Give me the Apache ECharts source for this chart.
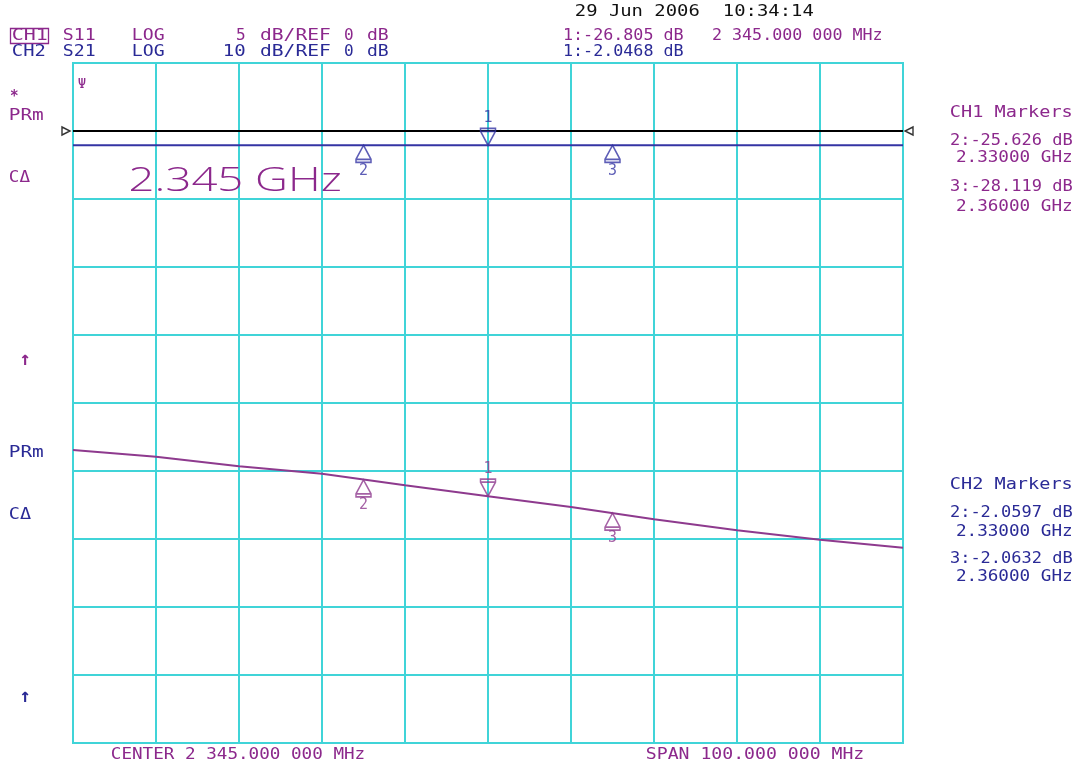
<!DOCTYPE html>
<html><head><meta charset="utf-8">
<script src="https://cdn.jsdelivr.net/npm/echarts@6/dist/echarts.min.js"></script>
<style>html,body{margin:0;padding:0;background:#fff}#c{width:1083px;height:769px}</style>
</head><body><div id="c"></div>
<script>
// ---------- data ----------
const centerMHz = 2345;                                   // CENTER 2 345.000 000 MHz, SPAN 100 MHz
const freqOffsets = [-50, -40, -30, -20, -10, 0, 10, 20, 30, 40, 50]; // MHz from centre
// trace heights in screen divisions above the bottom graticule line
const ch1Trace = [8.79, 8.79, 8.79, 8.79, 8.79, 8.79, 8.79, 8.79, 8.79, 8.79, 8.79];
const ch2Trace = [4.31, 4.21, 4.07, 3.96, 3.79, 3.63, 3.47, 3.29, 3.13, 2.99, 2.87];
const ch1RefLevel = 9;
const markerNames = ['1', '2', '3'];
const markerOffsets = [0, -15, 15];                       // 2345, 2330, 2360 MHz
const ch1MarkerPos = [8.79, 8.79, 8.79];
const ch2MarkerPos = [3.63, 3.87, 3.38];
const ch1MarkerText = ['2:-25.626 dB', '2.33000 GHz', '3:-28.119 dB', '2.36000 GHz'];
const ch2MarkerText = ['2:-2.0597 dB', '2.33000 GHz', '3:-2.0632 dB', '2.36000 GHz'];
const ch1Readout = '1:-26.805 dB';
const ch2Readout = '1:-2.0468 dB';
const markerFreqText = '2 345.000 000 MHz';
const centerText = 'CENTER 2 345.000 000 MHz';
const spanText = 'SPAN 100.000 000 MHz';
const dateText = ['29 Jun 2006', '10:34:14'];
const bigFreqText = '2.345 GHz';

// ---------- styles ----------
const P = '#8c288c', B = '#2a2a96', K = '#111111';
const TRACE1 = '#3434a4', TRACE2 = '#8e3a8e', CYAN = '#40d4d8';
const MONO = '"DejaVu Sans Mono", "Liberation Mono", monospace';

const ctx = document.createElement('canvas').getContext('2d');
function txt(s, x1, x2, yc, color, size, family, weight) {
  const font = (weight ? weight + ' ' : '') + size + 'px ' + (family || MONO);
  ctx.font = font;
  const m = ctx.measureText(s);
  const ink = m.actualBoundingBoxLeft + m.actualBoundingBoxRight;
  const sx = (x2 - x1) / ink;
  return { type: 'text', x: x1 + m.actualBoundingBoxLeft * sx, y: yc, scaleX: sx, silent: true, z: 10,
    style: { text: s, fill: color, font: font, textAlign: 'left', align: 'left',
             textVerticalAlign: 'middle', verticalAlign: 'middle' } };
}
function ctxt(s, x, yc, color, size, weight) {
  return { type: 'text', x: x, y: yc, silent: true, z: 10,
    style: { text: s, fill: color, font: (weight ? weight + ' ' : '') + size + 'px ' + MONO, textAlign: 'center', align: 'center',
             textVerticalAlign: 'middle', verticalAlign: 'middle' } };
}

const graphics = [
  // header row 1 (CH1)
  { type: 'rect', shape: { x: 10.5, y: 28.5, width: 38, height: 15 }, style: { fill: 'none', stroke: P, lineWidth: 1.3 }, silent: true },
  txt('CH1', 13, 47, 36, P, 16), txt('S11', 64, 95, 35.5, P, 16), txt('LOG', 133, 164, 35.5, P, 16),
  txt('5', 237, 245, 35.5, P, 16), txt('dB/REF', 260, 330, 35.5, P, 16), txt('0', 345, 353, 35.5, P, 16), txt('dB', 367, 388, 35.5, P, 16),
  // header row 2 (CH2)
  txt('CH2', 13, 45, 52, B, 16), txt('S21', 64, 95, 52, B, 16), txt('LOG', 133, 164, 52, B, 16),
  txt('10', 224, 245, 52, B, 16), txt('dB/REF', 260, 330, 52, B, 16), txt('0', 345, 353, 52, B, 16), txt('dB', 367, 388, 52, B, 16),
  // date / readouts
  txt(dateText[0], 576, 699, 11.5, K, 16), txt(dateText[1], 724, 813, 11.5, K, 16),
  txt(ch1Readout, 564, 683, 35.5, P, 16), txt(markerFreqText, 713, 882, 35.5, P, 16),
  txt(ch2Readout, 564, 683, 52, B, 16),
  // left annotations
  txt('*', 10, 18, 97, P, 16, null, 'bold'), txt('PRm', 10, 43, 115.5, P, 16), txt('C\u0394', 10, 30, 178, P, 15),
  ctxt('\u2191', 25, 360, P, 19, 'bold'),
  txt('PRm', 10, 43, 452.5, B, 16), txt('C\u0394', 10, 31, 515, B, 15),
  ctxt('\u2191', 25, 697, B, 19, 'bold'),
  ctxt('\u03a8', 82, 84, P, 14),
  // big frequency label
  txt(bigFreqText, 130, 340, 182, P, 33, '"Open Sans", "Noto Sans", sans-serif', 300),
  // right marker tables
  txt('CH1 Markers', 951, 1072, 112.5, P, 16),
  txt(ch1MarkerText[0], 951, 1072, 141, P, 16), txt(ch1MarkerText[1], 957, 1072, 158, P, 16),
  txt(ch1MarkerText[2], 951, 1072, 187, P, 16), txt(ch1MarkerText[3], 957, 1072, 207, P, 16),
  txt('CH2 Markers', 951, 1072, 485, B, 16),
  txt(ch2MarkerText[0], 951, 1072, 513, B, 16), txt(ch2MarkerText[1], 957, 1072, 531.5, B, 16),
  txt(ch2MarkerText[2], 951, 1072, 559, B, 16), txt(ch2MarkerText[3], 957, 1072, 577, B, 16),
  // bottom
  txt(centerText, 112, 364, 755, P, 15), txt(spanText, 647, 863, 755, P, 15)
];

const DOWN = 'path://M0,0 L15,0 L15,3 L7.5,17 L0,3 Z M0,3 L15,3';
const UP = 'path://M7.5,0 L15,14 L15,17 L0,17 L0,14 Z M0,14 L15,14';
function markerData(pos, color) {
  return markerOffsets.map((f, i) => {
    const down = i === 0;
    return { name: markerNames[i], value: [f, pos[i]], symbol: down ? DOWN : UP,
      symbolSize: [15, 17], symbolOffset: [0, down ? -8.5 : 8.5],
      label: { show: true, position: down ? 'top' : 'bottom', distance: down ? 2 : 0, formatter: '{b}',
               color: color, fontSize: 15, fontFamily: MONO } };
  });
}

const chart = echarts.init(document.getElementById('c'), null, { renderer: 'canvas' });
chart.setOption({
  backgroundColor: '#ffffff',
  animation: false,
  grid: { left: 73, top: 63, width: 830, height: 680, show: true, borderColor: CYAN, borderWidth: 2, backgroundColor: 'transparent' },
  xAxis: { type: 'value', min: -50, max: 50, interval: 10,
    axisLabel: { show: false }, axisTick: { show: false },
    axisLine: { show: true, lineStyle: { color: CYAN, width: 2 } },
    splitLine: { show: true, lineStyle: { color: CYAN, width: 2 } } },
  yAxis: { type: 'value', min: 0, max: 10, interval: 1,
    axisLabel: { show: false }, axisTick: { show: false },
    axisLine: { show: true, lineStyle: { color: CYAN, width: 2 } },
    splitLine: { show: true, lineStyle: { color: CYAN, width: 2 } } },
  graphic: graphics,
  series: [
    { type: 'line', data: freqOffsets.map((f, i) => [f, ch1Trace[i]]), showSymbol: false, silent: true, z: 3,
      lineStyle: { color: TRACE1, width: 2 } },
    { type: 'line', data: freqOffsets.map((f, i) => [f, ch2Trace[i]]), showSymbol: false, silent: true, z: 3,
      lineStyle: { color: TRACE2, width: 2 } },
    { type: 'line', data: [[freqOffsets[0], ch1RefLevel], [freqOffsets[freqOffsets.length - 1], ch1RefLevel]],
      showSymbol: false, silent: true, z: 4, lineStyle: { color: '#000', width: 1.8 } },
    { type: 'scatter', clip: false, silent: true, z: 5,
      itemStyle: { color: '#fff', borderColor: '#000', borderWidth: 1.4 },
      data: [
        { value: [freqOffsets[0], ch1RefLevel], symbol: 'path://M0,0 L0,8 M0,0 L8,4 L0,8 Z', symbolSize: [8, 8], symbolOffset: [-7, 0] },
        { value: [freqOffsets[freqOffsets.length - 1], ch1RefLevel], symbol: 'path://M8,0 L8,8 M8,0 L0,4 L8,8 Z', symbolSize: [8, 8], symbolOffset: [6, 0] }
      ] },
    { type: 'scatter', clip: false, silent: true, z: 6, data: markerData(ch1MarkerPos, TRACE1),
      itemStyle: { color: 'rgba(255,255,255,0)', borderColor: TRACE1, borderWidth: 1.6 } },
    { type: 'scatter', clip: false, silent: true, z: 6, data: markerData(ch2MarkerPos, TRACE2),
      itemStyle: { color: 'rgba(255,255,255,0)', borderColor: TRACE2, borderWidth: 1.6 } }
  ]
});
</script>
</body></html>
